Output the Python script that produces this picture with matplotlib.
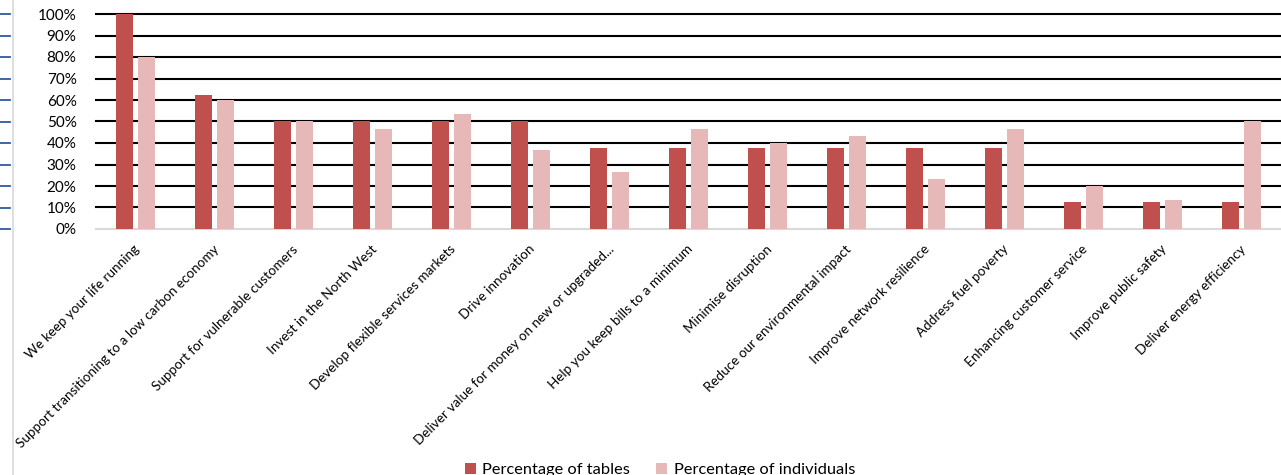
import numpy as np
import matplotlib.pyplot as plt
import matplotlib.transforms as mtransforms
from matplotlib.lines import Line2D

plt.rcParams['font.family'] = ['Lato', 'DejaVu Sans']

# categories and the two series (fractions)
categories = [
    "We keep your life running",
    "Support transitioning to a low carbon economy",
    "Support for vulnerable customers",
    "Invest in the North West",
    "Develop flexible services markets",
    "Drive innovation",
    "Deliver value for money on new or upgraded...",
    "Help you keep bills to a minimum",
    "Minimise disruption",
    "Reduce our environmental impact",
    "Improve network resilience",
    "Address fuel poverty",
    "Enhancing customer service",
    "Improve public safety",
    "Deliver energy efficiency",
]
pct_tables = [1.0, 0.625, 0.5, 0.5, 0.5, 0.5, 0.375, 0.375, 0.375, 0.375,
              0.375, 0.375, 0.125, 0.125, 0.125]
pct_individuals = [0.80, 0.60, 0.50, 0.467, 0.533, 0.367, 0.267, 0.467, 0.40,
                   0.433, 0.233, 0.467, 0.20, 0.133, 0.50]
yticks = [0, 0.1, 0.2, 0.3, 0.4, 0.5, 0.6, 0.7, 0.8, 0.9, 1.0]
ytick_labels = ["0%", "10%", "20%", "30%", "40%", "50%", "60%", "70%", "80%", "90%", "100%"]

W, H = 1281, 475
fig = plt.figure(figsize=(W / 100, H / 100), dpi=100)
ax = fig.add_axes([96 / W, (H - 229) / H, (W - 96) / W, 215 / H])

x = np.arange(len(categories))
bw = 0.22
ax.bar(x - bw / 2 - 0.032, pct_tables, bw, color="#C0504D", label="Percentage of tables",
       zorder=3)
ax.bar(x + bw / 2 + 0.032, pct_individuals, bw, color="#E6B9B8",
       label="Percentage of individuals", zorder=3)

ax.set_xlim(-0.5, len(categories) - 0.5)
ax.set_ylim(0, 1)
ax.set_yticks(yticks)
ax.set_yticklabels(ytick_labels, fontsize=11)
ax.tick_params(axis='y', length=0, pad=14)
ax.set_xticks(x)
ax.set_xticklabels(categories, rotation=45, ha='right', rotation_mode='anchor', fontsize=9.7)
ax.tick_params(axis='x', length=0, pad=10)
shift = mtransforms.ScaledTranslation(-2 / 100, 0, fig.dpi_scale_trans)
for lbl in ax.get_xticklabels():
    lbl.set_transform(lbl.get_transform() + shift)

for v in yticks[1:]:
    ax.axhline(v, color="black", lw=1.5, zorder=1, clip_on=False)
for s in ['top', 'right', 'left']:
    ax.spines[s].set_visible(False)
ax.spines['bottom'].set_color("#D9D9D9")
ax.spines['bottom'].set_linewidth(1.5)

# stray axis fragment at the left edge of the screenshot
fig.add_artist(Line2D([13 / W, 13 / W], [0, 1], color="#D9D9D9", lw=1.2))
for v in yticks:
    yy = (H - 229 + 215 * v) / H
    fig.add_artist(Line2D([0, 10 / W], [yy, yy], color="#2E5A9E", lw=1.3))

fig.legend(loc='center', bbox_to_anchor=(660 / W, 1 - 470 / H), ncol=2, frameon=False,
           fontsize=11.8, handlelength=0.65, handleheight=0.65, handletextpad=0.4,
           columnspacing=1.6)

fig.savefig("out.png", dpi=100)
